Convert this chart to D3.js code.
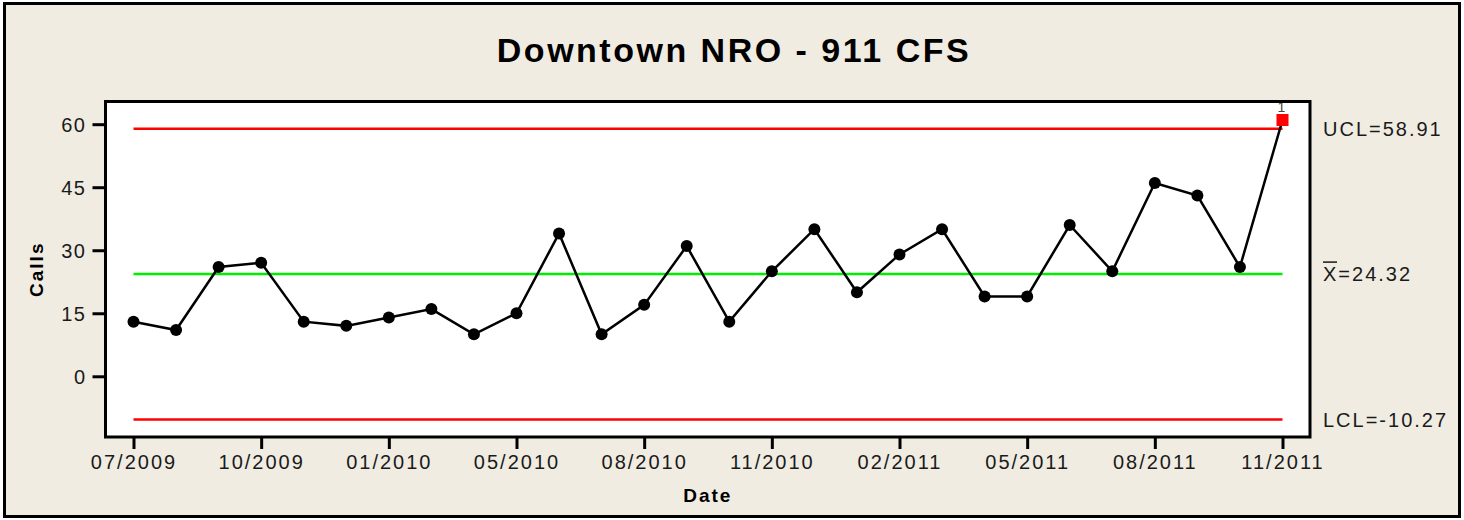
<!DOCTYPE html>
<html>
<head>
<meta charset="utf-8">
<script src="https://cdn.jsdelivr.net/npm/d3@7"></script>
<style>
  body { margin: 0; background: #fff; }
  svg { display: block; font-family: "Liberation Sans", Arial, sans-serif; }
</style>
</head>
<body>
<div class="container"></div>
<script>
// I chart of monthly 911 calls for service

const calls = [13, 11, 26, 27, 13, 12, 14, 16, 10, 15, 34, 10, 17, 31,
               13, 25, 35, 20, 29, 35, 19, 19, 36, 25, 46, 43, 26, 61];

const tickIndex = [0, 3, 6, 9, 12, 15, 18, 21, 24, 27];
const tickLabels = ["07/2009", "10/2009", "01/2010", "05/2010", "08/2010",
                    "11/2010", "02/2011", "05/2011", "08/2011", "11/2011"];

const yTicks = [0, 15, 30, 45, 60];

const limitNames = ["UCL", "X", "LCL"];
const limitValues = [58.91, 24.32, -10.27];
const limitColors = ["#ff0000", "#00ee00", "#ff0000"];

const width = 1464, height = 520;
const plot = { left: 105.5, right: 1310, top: 101.5, bottom: 437 };

const svg = d3.select(".container")
  .append("svg")
    .attr("width", width)
    .attr("height", height);

// background + outer frame
svg.append("rect")
    .attr("x", 4.5).attr("y", 3.5)
    .attr("width", width - 9).attr("height", height - 7)
    .attr("fill", "#f0ece2")
    .attr("stroke", "#000")
    .attr("stroke-width", 3);

svg.append("text")
    .attr("x", 734).attr("y", 62)
    .attr("text-anchor", "middle")
    .style("font-size", "34px")
    .style("font-weight", "bold")
    .style("letter-spacing", "2.5px")
    .text("Downtown NRO - 911 CFS");

const x = d3.scaleLinear()
  .domain([0, calls.length - 1])
  .range([133.5, 1282.5]);

const y = d3.scaleLinear()
  .domain([-14.45, 65.4])
  .range([plot.bottom, plot.top]);

// plot area
svg.append("rect")
    .attr("x", plot.left).attr("y", plot.top)
    .attr("width", plot.right - plot.left)
    .attr("height", plot.bottom - plot.top)
    .attr("fill", "#fff");

const yAxis = svg.append("g")
    .attr("transform", `translate(${plot.left},0)`)
    .call(d3.axisLeft(y).tickValues(yTicks).tickSize(13).tickPadding(6));

const xAxis = svg.append("g")
    .attr("transform", `translate(0,${plot.bottom})`)
    .call(d3.axisBottom(x)
      .tickValues(tickIndex)
      .tickFormat((d, i) => tickLabels[i])
      .tickSize(12).tickPadding(6));

[yAxis, xAxis].forEach(a => {
  a.select(".domain").remove();
  a.selectAll(".tick line").attr("stroke", "#000").attr("stroke-width", 3);
  a.selectAll(".tick text")
    .attr("fill", "#1a1a1a")
    .style("font-size", "20px")
    .style("font-family", "'Liberation Sans', Arial, sans-serif");
});
xAxis.selectAll(".tick text").style("letter-spacing", "2px");
yAxis.selectAll(".tick text").attr("dy", "0.36em").style("letter-spacing", "1.5px");

// control limit lines
svg.append("g")
  .selectAll("line")
  .data(limitValues)
  .join("line")
    .attr("x1", x(0)).attr("x2", x(calls.length - 1))
    .attr("y1", d => y(d)).attr("y2", d => y(d))
    .attr("stroke", (d, i) => limitColors[i])
    .attr("stroke-width", 2.5);

svg.append("g")
  .selectAll("text")
  .data(limitValues)
  .join("text")
    .attr("x", 1323)
    .attr("y", d => y(d))
    .attr("dy", "0.36em")
    .attr("fill", "#1a1a1a")
    .style("font-size", "20px")
    .style("letter-spacing", "2px")
    .text((d, i) => `${limitNames[i]}=${d.toFixed(2)}`);

// bar over the X of the mean label
svg.append("line")
    .attr("x1", 1323).attr("x2", 1337)
    .attr("y1", y(limitValues[1]) - 12).attr("y2", y(limitValues[1]) - 12)
    .attr("stroke", "#1a1a1a")
    .attr("stroke-width", 1.5);

// data line
svg.append("path")
    .datum(calls)
    .attr("fill", "none")
    .attr("stroke", "#000")
    .attr("stroke-width", 2.5)
    .attr("d", d3.line().x((d, i) => x(i)).y(d => y(d)));

const ucl = limitValues[0];

svg.append("g")
  .selectAll("circle")
  .data(calls.map((v, i) => ({ v, i })).filter(d => d.v <= ucl))
  .join("circle")
    .attr("cx", d => x(d.i))
    .attr("cy", d => y(d.v))
    .attr("r", 6)
    .attr("fill", "#000");

const outOfControl = calls.map((v, i) => ({ v, i })).filter(d => d.v > ucl);

svg.append("g")
  .selectAll("rect")
  .data(outOfControl)
  .join("rect")
    .attr("x", d => x(d.i) - 6)
    .attr("y", d => y(d.v) - 6)
    .attr("width", 12).attr("height", 12)
    .attr("fill", "#ff0000");

// test number flag above the failing point
svg.append("g")
  .selectAll("text")
  .data(outOfControl)
  .join("text")
    .attr("x", d => x(d.i) - 1)
    .attr("y", d => y(d.v) - 8)
    .attr("text-anchor", "middle")
    .attr("fill", "#444")
    .style("font-size", "14px")
    .text("1");

// plot frame on top
svg.append("rect")
    .attr("x", plot.left).attr("y", plot.top)
    .attr("width", plot.right - plot.left)
    .attr("height", plot.bottom - plot.top)
    .attr("fill", "none")
    .attr("stroke", "#000")
    .attr("stroke-width", 3);

svg.append("text")
    .attr("transform", `translate(43,${(plot.top + plot.bottom) / 2}) rotate(-90)`)
    .attr("text-anchor", "middle")
    .style("font-size", "19px")
    .style("font-weight", "bold")
    .style("letter-spacing", "2px")
    .text("Calls");

svg.append("text")
    .attr("x", (plot.left + plot.right) / 2)
    .attr("y", 502)
    .attr("text-anchor", "middle")
    .style("font-size", "19px")
    .style("font-weight", "bold")
    .style("letter-spacing", "2px")
    .text("Date");
</script>
</body>
</html>
